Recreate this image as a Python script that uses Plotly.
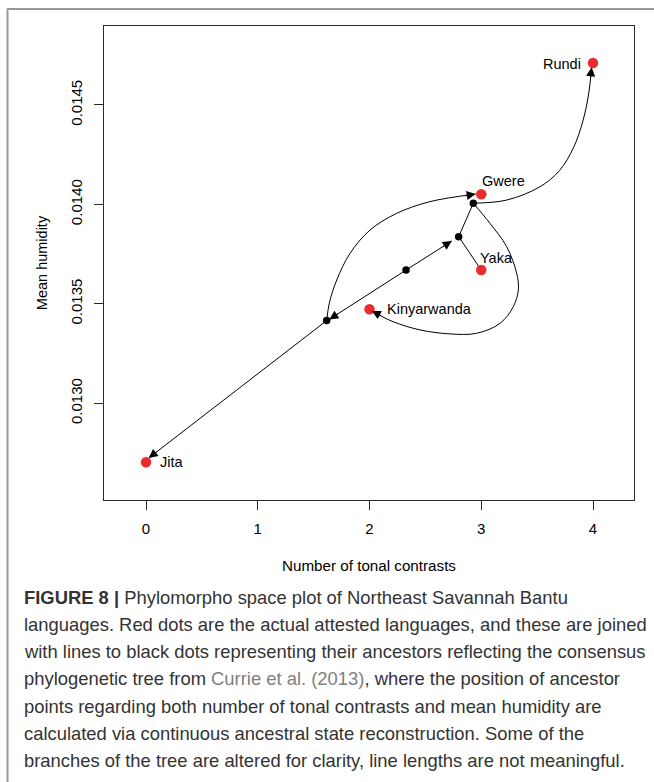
import plotly.graph_objects as go

# ---------------- data ----------------
lang_names = ["Jita", "Kinyarwanda", "Yaka", "Gwere", "Rundi"]
lang_x = [0, 2, 3, 3, 4]
lang_y = [0.012704, 0.013473, 0.013670, 0.014051, 0.014711]

node_x = [1.617, 2.327, 2.798, 2.929]   # D, C, B, A (ancestors)
node_y = [0.013416, 0.013670, 0.013838, 0.014006]

# straight branches: (from, to) as x/y pairs
branch_C_D_x = [2.327, 1.640]; branch_C_D_y = [0.013670, 0.013422]
branch_C_B_x = [2.327, 2.736]; branch_C_B_y = [0.013670, 0.013816]
branch_B_A_x = [2.798, 2.929]; branch_B_A_y = [0.013838, 0.014006]
branch_B_Yaka_x = [2.798, 3.0]; branch_B_Yaka_y = [0.013838, 0.013670]
branch_D_Jita_x = [1.617, 0.024]; branch_D_Jita_y = [0.013416, 0.012725]

# curved branches: waypoints
curve_D_Gwere_x = [1.617, 1.640, 1.707, 1.826, 2.004, 2.243, 2.541, 2.950]
curve_D_Gwere_y = [0.013415, 0.013503, 0.013620, 0.013754, 0.013871, 0.013955, 0.014014, 0.014052]

curve_A_Rundi_x = [2.929, 3.228, 3.526, 3.700, 3.825, 3.910, 3.962, 3.988]
curve_A_Rundi_y = [0.014006, 0.014022, 0.014089, 0.014170, 0.014285, 0.014420, 0.014560, 0.014690]

curve_A_Kiny_x = [2.929, 3.078, 3.228, 3.317, 3.332, 3.287, 3.168, 2.959, 2.720, 2.452, 2.213, 2.020]
curve_A_Kiny_y = [0.014006, 0.013905, 0.013787, 0.013654, 0.013570, 0.013486, 0.013402,
                  0.013352, 0.013349, 0.013369, 0.013410, 0.013464]

x_ticks = [0, 1, 2, 3, 4]
y_ticks = [0.0130, 0.0135, 0.0140, 0.0145]

x_label = "Number of tonal contrasts"
y_label = "Mean humidity"

caption_lines = [
    "<b>FIGURE 8 |</b> Phylomorpho space plot of Northeast Savannah Bantu",
    "languages. Red dots are the actual attested languages, and these are joined",
    "with lines to black dots representing their ancestors reflecting the consensus",
    "phylogenetic tree from <span style='color:#808080'>Currie et al. (2013)</span>, where the position of ancestor",
    "points regarding both number of tonal contrasts and mean humidity are",
    "calculated via continuous ancestral state reconstruction. Some of the",
    "branches of the tree are altered for clarity, line lengths are not meaningful.",
]

# ---------------- layout geometry ----------------
W, H = 654, 782
ML, MR, MT, MB = 104, 20, 26, 282
x_range = [-0.3758, 4.3669]
y_range = [0.0125138, 0.0148972]
plot_w = W - ML - MR
plot_h = H - MT - MB
sx = plot_w / (x_range[1] - x_range[0])
sy = plot_h / (y_range[1] - y_range[0])

FONT = "Liberation Sans, Arial, sans-serif"

fig = go.Figure()

def add_line(xs, ys, shape="linear"):
    fig.add_trace(go.Scatter(x=xs, y=ys, mode="lines",
                             line=dict(color="black", width=1, shape=shape,
                                       smoothing=1.0 if shape == "spline" else None),
                             hoverinfo="skip", showlegend=False))

for xs, ys in [(branch_C_D_x, branch_C_D_y), (branch_C_B_x, branch_C_B_y), (branch_B_A_x, branch_B_A_y),
               (branch_B_Yaka_x, branch_B_Yaka_y), (branch_D_Jita_x, branch_D_Jita_y)]:
    add_line(xs, ys)
for xs, ys in [(curve_D_Gwere_x, curve_D_Gwere_y), (curve_A_Rundi_x, curve_A_Rundi_y),
               (curve_A_Kiny_x, curve_A_Kiny_y)]:
    add_line(xs, ys, "spline")

# arrowheads at the ends of directed branches
def add_arrow(xs, ys, L=12):
    tx, ty = xs[-1], ys[-1]
    px, py = xs[-2], ys[-2]
    dx = (px - tx) * sx
    dy = -(py - ty) * sy
    n = (dx * dx + dy * dy) ** 0.5
    fig.add_annotation(x=tx, y=ty, ax=dx / n * L, ay=dy / n * L, xref="x", yref="y",
                       showarrow=True, arrowhead=2, arrowsize=1.8, arrowwidth=1,
                       arrowcolor="black", text="", standoff=0)

for xs, ys in [(branch_C_D_x, branch_C_D_y), (branch_C_B_x, branch_C_B_y), (branch_D_Jita_x, branch_D_Jita_y),
               (curve_D_Gwere_x, curve_D_Gwere_y), (curve_A_Rundi_x, curve_A_Rundi_y),
               (curve_A_Kiny_x, curve_A_Kiny_y)]:
    add_arrow(xs, ys)

# ancestor nodes
fig.add_trace(go.Scatter(x=node_x, y=node_y, mode="markers", marker=dict(color="black", size=7.5),
                         hoverinfo="skip", showlegend=False))
# attested languages
fig.add_trace(go.Scatter(x=lang_x, y=lang_y, mode="markers", marker=dict(color="#EC2B2E", size=10.5),
                         hoverinfo="skip", showlegend=False))

# language labels: (anchor side, x shift, y shift) in pixels
label_pos = {"Jita": ("right", 12, 1), "Kinyarwanda": ("right", 15, 1),
             "Yaka": ("above", -3, 12), "Gwere": ("above", -1, 13),
             "Rundi": ("left", -10, 0)}
for name, x, y in zip(lang_names, lang_x, lang_y):
    side, xo, yo = label_pos[name]
    fig.add_annotation(x=x, y=y, xref="x", yref="y", text=name, showarrow=False,
                       xanchor="right" if side == "left" else "left",
                       yanchor="middle", xshift=xo, yshift=yo - 1 if side != "above" else yo,
                       font=dict(family=FONT, size=14.5, color="black"))

# caption
cap_top = 597
cap_step = 27.3
for i, line in enumerate(caption_lines):
    yc = cap_top + i * cap_step
    fig.add_annotation(xref="paper", yref="paper", x=(22 - ML) / plot_w, y=(H - MB - yc) / plot_h,
                       xanchor="left", yanchor="middle", text=line, showarrow=False, align="left",
                       font=dict(family=FONT, size=18.4, color="#333333"))

# outer frame of the figure panel
def px_x(p):
    return (p - ML) / plot_w
def px_y(p):
    return (H - MB - p) / plot_h

fig.add_shape(type="line", xref="paper", yref="paper", x0=px_x(7), x1=px_x(660), y0=px_y(9), y1=px_y(9),
              line=dict(color="#333333", width=1))
fig.add_shape(type="line", xref="paper", yref="paper", x0=px_x(7.5), x1=px_x(7.5), y0=px_y(9), y1=px_y(790),
              line=dict(color="#999999", width=2))

axis_common = dict(showline=True, linecolor="#2a2a2a", linewidth=1.2, mirror=True, showgrid=False,
                   zeroline=False, ticks="outside", ticklen=9, tickcolor="#2a2a2a", tickwidth=1,
                   tickfont=dict(family=FONT, size=15, color="black"))

fig.update_layout(
    width=W, height=H, margin=dict(l=ML, r=MR, t=MT, b=MB, autoexpand=False),
    paper_bgcolor="white", plot_bgcolor="white", showlegend=False,
    xaxis=dict(range=x_range, tickvals=x_ticks, ticktext=[str(v) for v in x_ticks],
               ticklabelstandoff=6,
               title=dict(text=x_label, font=dict(family=FONT, size=15.2, color="black"), standoff=24),
               **axis_common),
    yaxis=dict(range=y_range, tickvals=y_ticks, ticktext=[f"{v:.4f}" for v in y_ticks], tickangle=-90,
               ticklabelstandoff=6,
               title=dict(text=y_label, font=dict(family=FONT, size=14.5, color="black"), standoff=16),
               **axis_common),
)

fig.write_html("out.html")
